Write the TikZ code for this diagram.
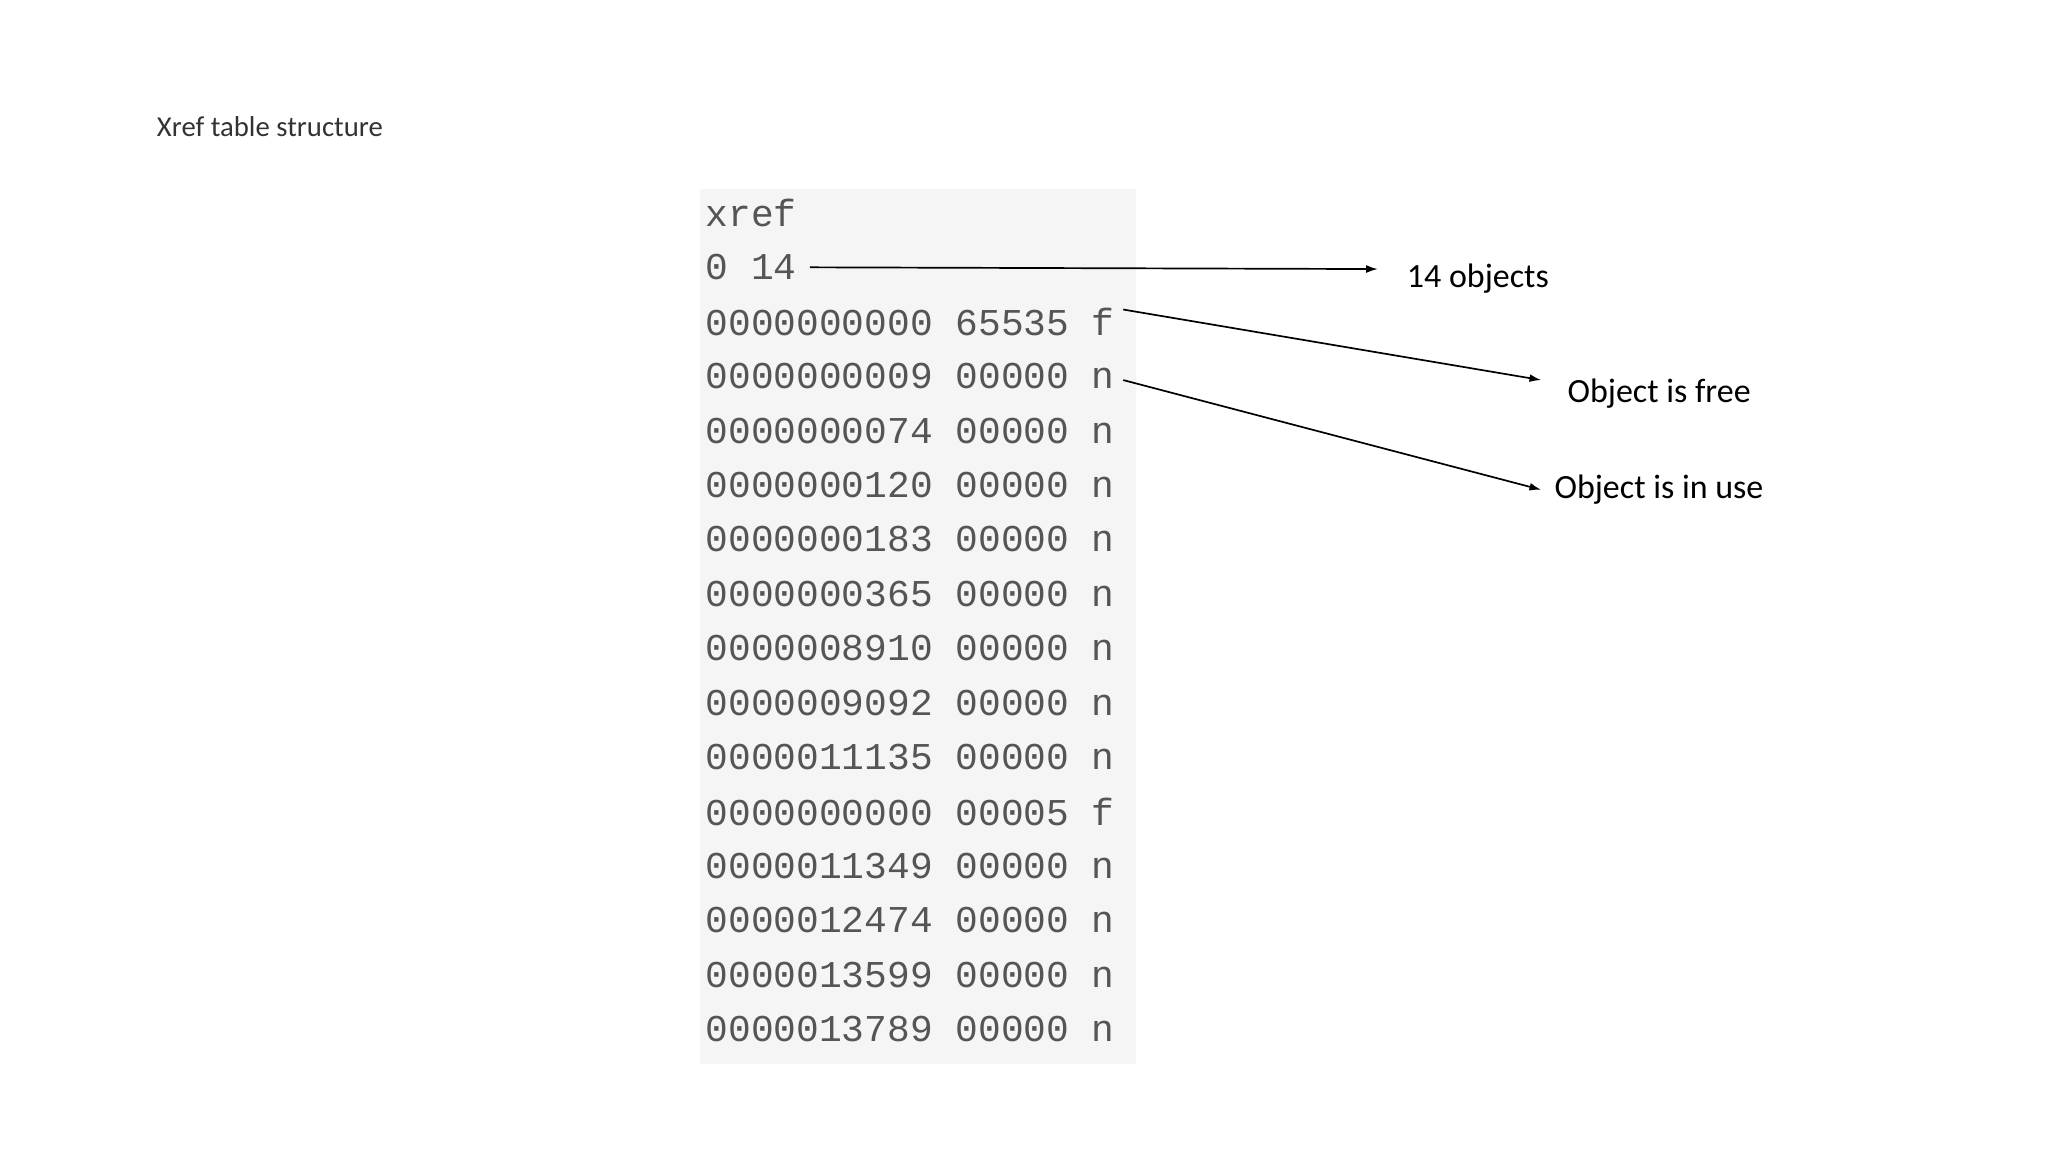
\documentclass[tikz,border=0pt]{standalone}
\usepackage{fontspec}
\setmainfont{Carlito}
\newfontfamily\monof{Liberation Mono}
\usetikzlibrary{arrows.meta}
\definecolor{codegray}{HTML}{555555}
\definecolor{bggray}{HTML}{F5F5F5}
\begin{document}
\begin{tikzpicture}[x=1pt,y=-1pt,
  row/.style={anchor=west,inner sep=0pt,font=\monof\fontsize{29}{29}\selectfont,text=codegray},
  lbl/.style={anchor=west,inner sep=0pt,font=\fontsize{26}{30}\selectfont},
  arr/.style={-{Latex[length=9pt,width=6pt]},line width=1.3pt}]
\useasboundingbox (0,0) rectangle (1568,882);
\fill[bggray] (536,145) rectangle (870,815);
\node[anchor=west,inner sep=0pt,font=\fontsize{22}{26}\selectfont\addfontfeatures{Color=333333}] (title) at (120,97) {Xref table structure};
\foreach \t [count=\i from 0] in {xref,0 14,0000000000 65535 f,0000000009 00000 n,0000000074 00000 n,0000000120 00000 n,0000000183 00000 n,0000000365 00000 n,0000008910 00000 n,0000009092 00000 n,0000011135 00000 n,0000000000 00005 f,0000011349 00000 n,0000012474 00000 n,0000013599 00000 n,0000013789 00000 n}
  \node[row] (r\i) at (540,{163+41.67*\i}) {\t};
\node[lbl] (l1) at (1077,213) {14 objects};
\node[lbl] (l2) at (1200,301) {Object is free};
\node[lbl] (l3) at (1190,375) {Object is in use};
\coordinate (a1) at ([xshift=10pt]r1.east);
\coordinate (e1) at (1055,206);
\coordinate (a2) at (860,237);
\coordinate (e2) at (1180,291);
\coordinate (a3) at (860,291);
\coordinate (e3) at (1180,375);
\draw[arr] (a1) -- (e1);
\draw[arr] (a2) -- (e2);
\draw[arr] (a3) -- (e3);
\end{tikzpicture}
\end{document}
